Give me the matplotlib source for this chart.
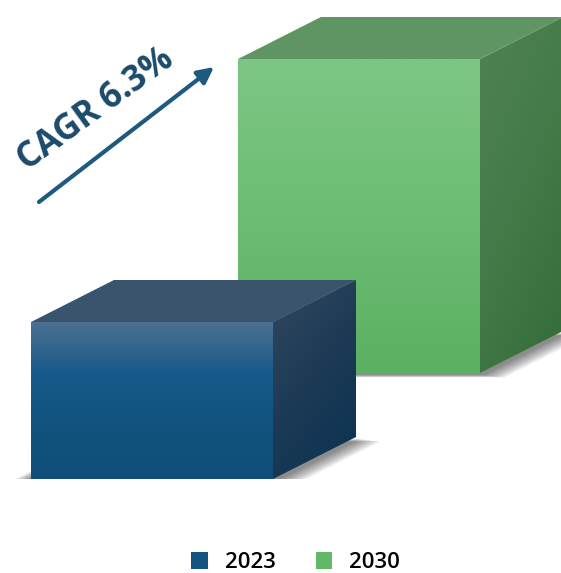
import numpy as np
import matplotlib.pyplot as plt
from matplotlib.patches import Polygon, Patch
from matplotlib.colors import LinearSegmentedColormap

# ==========================================
# DATA
# ==========================================

years = ["2023", "2030"]
market_size = [1.0, 2.0]          # relative size
cagr_text = "CAGR 6.3%"

# face colours (front: top -> bottom, side: light -> dark, top face flat)
front_colors = [["#4c7092", "#17598a", "#11537e", "#0f4e78"],
                ["#7ec686", "#6cbe72", "#5cb062"]]
side_colors = [["#31485f", "#1c3a55", "#0a3250"],
               ["#508254", "#437a48", "#336c39"]]
top_colors = ["#3b546d", "#5f9463"]
legend_colors = ["#14557f", "#62b868"]

# ==========================================
# LAYOUT (pixels)
# ==========================================

W, H = 561, 573
BASE_PX = 94            # blue box baseline, from the bottom
BOX_LEFT = 31
BOX_W = 242
UNIT_PX = 157           # pixels per unit of market size
DEPTH = (83, 42)        # box depth vector
BACK_SHIFT = (207, 106)  # 2030 box sits further back

plt.rcParams["font.family"] = ["Open Sans", "DejaVu Sans"]

fig = plt.figure(figsize=(W / 100, H / 100), dpi=100)
ax = fig.add_axes([0, BASE_PX / H, 1, (H - BASE_PX) / H])
ax.axis("off")
ax.set_xlim(-BOX_LEFT / BOX_W, (W - BOX_LEFT) / BOX_W)
ax.set_ylim(0, (H - BASE_PX) / UNIT_PX)
ax.set_autoscale_on(False)


def px(dx, dy):
    # pixel offset -> data offset
    return dx / BOX_W, dy / UNIT_PX


def gradient_fill(poly, img, cmap, z):
    xs, ys = poly[:, 0], poly[:, 1]
    clip = Polygon(poly, closed=True, transform=ax.transData)
    im = ax.imshow(img, cmap=cmap, vmin=0, vmax=1, origin="upper",
                   extent=(xs.min(), xs.max(), ys.min(), ys.max()),
                   aspect="auto", interpolation="bilinear", zorder=z)
    im.set_clip_path(clip)


def draw_box(x0, y0, value, i, z):
    dx, dy = px(*DEPTH)
    fl, fr = np.array([x0, y0]), np.array([x0 + 1, y0])
    tl, tr = np.array([x0, y0 + value]), np.array([x0 + 1, y0 + value])
    d = np.array([dx, dy])

    # soft shadow: bottom face, widened and nudged down, in layers
    for k in range(7):
        ex, sy = px(5 + k * 3.2, -2 - k * 0.4)
        shadow = np.array([fl + [-ex, sy], fr + [ex, sy],
                           fr + d + [ex, sy], fl + d + [-ex, sy]])
        ax.add_patch(Polygon(shadow, closed=True, facecolor="#000000",
                             edgecolor="none", alpha=0.08, zorder=z))

    # front face, vertical gradient
    front = np.array([fl, fr, tr, tl])
    cmap = LinearSegmentedColormap.from_list("f%d" % i, front_colors[i])
    gradient_fill(front, np.linspace(0, 1, 256).reshape(-1, 1), cmap, z + 1)

    # side face, diagonal gradient
    side = np.array([fr, fr + d, tr + d, tr])
    u = np.linspace(0, 1, 64)
    v = np.linspace(0, 1, 128)
    U, V = np.meshgrid(u, v)
    cmap = LinearSegmentedColormap.from_list("s%d" % i, side_colors[i])
    gradient_fill(side, 0.35 * U + 0.65 * V, cmap, z + 1)

    # top face
    top = np.array([tl, tr, tr + d, tl + d])
    ax.add_patch(Polygon(top, closed=True, facecolor=top_colors[i],
                         edgecolor="none", zorder=z + 1))


# back box first, then the front one over it
sx, sy = px(*BACK_SHIFT)
draw_box(sx, sy, market_size[1], 1, 1)
draw_box(0, 0, market_size[0], 0, 5)

# ==========================================
# CAGR ARROW + LABEL
# ==========================================

ax.annotate("", xy=(214, H - 67), xytext=(39, H - 202),
            xycoords="figure pixels", textcoords="figure pixels",
            arrowprops=dict(arrowstyle="-|>", color="#1d5a80", lw=3,
                            mutation_scale=24, shrinkA=0, shrinkB=0))
fig.text(96 / W, 1 - 110 / H, cagr_text, rotation=36, rotation_mode="anchor",
         ha="center", va="center", fontsize=25, fontweight="bold",
         color="#1b4a6b")

# ==========================================
# LEGEND
# ==========================================

handles = [Patch(facecolor=c, edgecolor="none") for c in legend_colors]
fig.legend(handles, years, loc="center", bbox_to_anchor=(0.527, 0.018),
           ncol=2, frameon=False, handlelength=0.75,
           handleheight=0.75, handletextpad=0.75, columnspacing=1.8,
           borderpad=0, prop={"size": 16, "weight": 600})

fig.savefig("out.png", dpi=100)
